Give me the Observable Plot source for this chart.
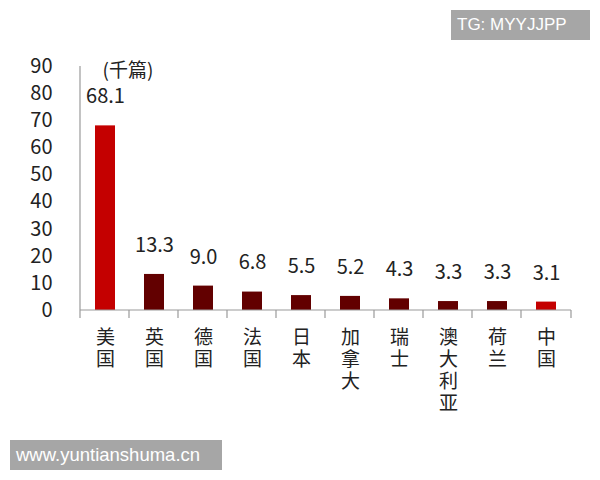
<!DOCTYPE html>
<html>
<head>
<meta charset="utf-8">
<script src="https://cdn.jsdelivr.net/npm/d3@7"></script>
<script src="https://cdn.jsdelivr.net/npm/@observablehq/plot@0.6"></script>
<style>
  html, body { margin: 0; padding: 0; background: #fff; }
  #wrap { position: relative; width: 600px; height: 480px; overflow: hidden; }
  .wm { position: absolute; background: #a6a6a6; color: #fff; font-family: "Liberation Sans", Arial, sans-serif; line-height: 30px; padding: 0 6px; white-space: nowrap; }
  #wm1 { left: 451px; top: 10px; width: 127px; height: 30px; font-size: 17px; }
  #wm2 { left: 10px; top: 440px; width: 200px; height: 30px; font-size: 18.5px; }
</style>
</head>
<body>
<div id="wrap">
  <div id="chart"></div>
  <div class="wm" id="wm1">TG: MYYJJPP</div>
  <div class="wm" id="wm2">www.yuntianshuma.cn</div>
</div>
<script>
const categories = ["美国", "英国", "德国", "法国", "日本", "加拿大", "瑞士", "澳大利亚", "荷兰", "中国"];
const values = [68.1, 13.3, 9.0, 6.8, 5.5, 5.2, 4.3, 3.3, 3.3, 3.1];
const valueLabels = ["68.1", "13.3", "9.0", "6.8", "5.5", "5.2", "4.3", "3.3", "3.3", "3.1"];
const highlight = ["美国", "中国"];
const yTicks = [0, 10, 20, 30, 40, 50, 60, 70, 80, 90];
const unitLabel = "(千篇)";

const data = categories.map((c, i) => ({ country: c, value: values[i], label: valueLabels[i] }));

const font = "'Noto Sans CJK SC', 'Noto Sans', sans-serif";
const axisColor = "#9a9a9a";

// Band boundary tick marks and axis lines, drawn from the scales
function frameLines(index, scales, values, dimensions) {
  const { x, y } = scales;
  const step = x.bandwidth() / 0.4;
  const g = d3.create("svg:g").attr("stroke", axisColor).attr("stroke-width", 1.2);
  const y0 = y(0);
  const left = x(categories[0]) - step * 0.3;
  const right = x(categories[categories.length - 1]) + x.bandwidth() + step * 0.3;
  g.append("line").attr("x1", left).attr("x2", right).attr("y1", y0).attr("y2", y0);
  g.append("line").attr("x1", left).attr("x2", left).attr("y1", y(90)).attr("y2", y0);
  const bounds = categories.map(c => x(c) - step * 0.3).concat([right]);
  for (const b of bounds) {
    g.append("line").attr("x1", b).attr("x2", b).attr("y1", y0).attr("y2", y0 + 8);
  }
  return g.node();
}

// one text mark per character row of the vertical category labels
const maxChars = d3.max(categories, c => c.length);
const charMarks = d3.range(maxChars).map(k =>
  Plot.text(categories.filter(c => c.length > k), {
    x: d => d,
    y: () => 0,
    text: d => d[k],
    dy: 27 + k * 22,
    fontSize: 19,
    fill: "#222",
    lineAnchor: "middle"
  })
);

const chart = Plot.plot({
  width: 600,
  height: 480,
  marginLeft: 78,
  marginRight: 28,
  marginTop: 66,
  marginBottom: 170,
  style: { fontFamily: font, background: "transparent", color: "#222" },
  x: { domain: categories, paddingInner: 0.6, paddingOuter: 0.3, label: null, axis: null },
  y: { domain: [0, 90], label: null },
  marks: [
    Plot.barY(data, {
      x: "country",
      y: "value",
      fill: d => highlight.includes(d.country) ? "#c40000" : "#620000"
    }),
    Plot.text(data, {
      x: "country",
      y: "value",
      text: "label",
      dy: -29,
      fontSize: 20,
      fill: "#222",
      lineAnchor: "middle"
    }),
    Plot.text([unitLabel], {
      x: () => categories[0],
      y: () => 90,
      text: d => d,
      textAnchor: "start",
      dx: -3,
      dy: 4,
      fontSize: 19,
      fill: "#222",
      lineAnchor: "middle"
    }),
    Plot.axisY({
      ticks: yTicks,
      tickSize: 0,
      tickPadding: 26,
      fontSize: 20,
      label: null,
      tickFormat: d => String(d),
      fill: "#222"
    }),
    ...charMarks,
    frameLines
  ]
});

document.getElementById("chart").appendChild(chart);
</script>
</body>
</html>
